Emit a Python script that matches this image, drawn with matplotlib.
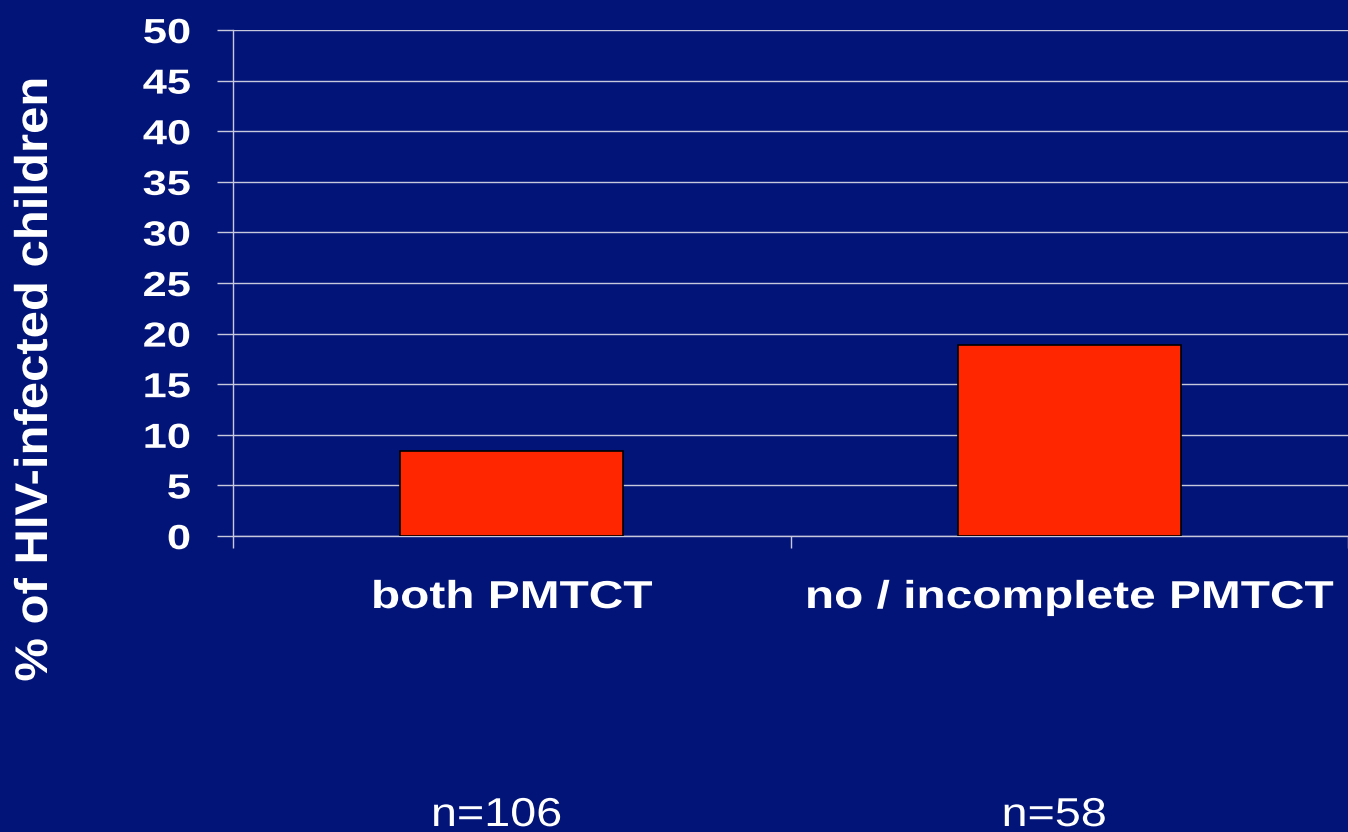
import matplotlib
matplotlib.use("Agg")
import matplotlib.pyplot as plt
from matplotlib.transforms import blended_transform_factory, Affine2D
from matplotlib.patheffects import AbstractPathEffect

categories = ["both PMTCT", "no / incomplete PMTCT"]
infected_pct = [8.4, 18.9]
sample_sizes = ["n=106", "n=58"]
y_ticks = [0, 5, 10, 15, 20, 25, 30, 35, 40, 45, 50]

BG = "#031479"
BAR = "#FF2600"
GRID = "#C8C8DC"

plt.rcParams["font.family"] = ["Liberation Sans", "DejaVu Sans"]


class Widen(AbstractPathEffect):
    """Draw text glyphs widened along the text direction."""

    def __init__(self, factor, anchor="center"):
        super().__init__()
        self.factor = factor
        self.anchor = anchor

    def draw_path(self, renderer, gc, tpath, affine, rgbFace=None):
        ext = tpath.get_extents()
        if self.anchor == "right":
            ax0 = ext.x1
        elif self.anchor == "left":
            ax0 = ext.x0
        else:
            ax0 = 0.5 * (ext.x0 + ext.x1)
        t = Affine2D().translate(-ax0, 0).scale(self.factor, 1).translate(ax0, 0) + affine
        renderer.draw_path(gc, tpath, t, rgbFace)


W, H = 1348, 832
fig = plt.figure(figsize=(W / 100, H / 100), dpi=100, facecolor=BG)
ax = fig.add_axes([233 / W, (H - 536) / H, (W - 233) / W, (536 - 30) / H])
ax.set_facecolor(BG)

x = list(range(len(categories)))
ax.bar(x, infected_pct, width=0.4, color=BAR, edgecolor="black",
       linewidth=1.2, zorder=3)

ax.set_xlim(-0.5, len(categories) - 0.5)
ax.set_ylim(0, 50)
ax.set_yticks(y_ticks)
ylabels = ax.set_yticklabels([str(v) for v in y_ticks], color="white",
                             fontsize=25, fontweight="bold")
for lbl in ylabels:
    lbl.set_path_effects([Widen(1.25, "right")])
ax.yaxis.grid(True, color=GRID, linewidth=1.0, zorder=1)
ax.tick_params(axis="y", length=11.5, width=1.0, color=GRID, pad=19)

# category boundaries as x ticks
ax.set_xticks([-0.5 + i for i in range(len(categories) + 1)])
ax.set_xticklabels([])
ax.tick_params(axis="x", length=8.6, width=1.0, color=GRID, direction="out")

for side in ["top", "right"]:
    ax.spines[side].set_visible(False)
for side in ["left", "bottom"]:
    ax.spines[side].set_color(GRID)
    ax.spines[side].set_linewidth(1.0)

trans = blended_transform_factory(ax.transData, fig.transFigure)
for i, (cat, n) in enumerate(zip(categories, sample_sizes)):
    ax.text(i, 1 - 608 / H, cat, transform=trans, ha="center", va="baseline",
            color="white", fontsize=28, fontweight="bold",
            path_effects=[Widen(1.23)])
    ax.text(i - 0.027, 1 - 826 / H, n, transform=trans, ha="center",
            va="baseline", color="white", fontsize=29,
            path_effects=[Widen(1.16)])

fig.text(35 / W, 1 - 379 / H, "% of HIV-infected children", rotation=90,
         ha="center", va="center", color="white", fontsize=33,
         fontweight="bold", path_effects=[Widen(1.07)])

fig.savefig("out.png", dpi=100, facecolor=BG)
